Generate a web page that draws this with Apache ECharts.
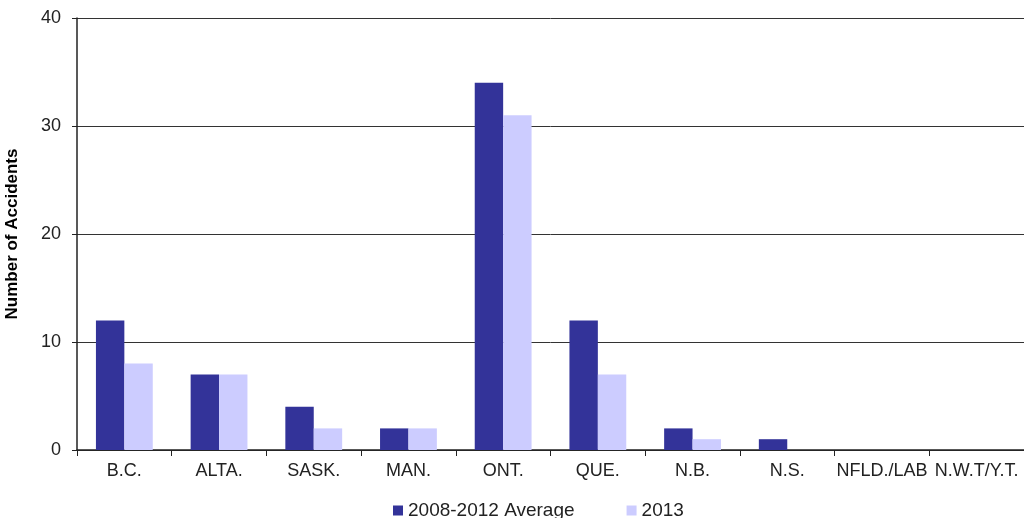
<!DOCTYPE html>
<html><head><meta charset="utf-8">
<script src="https://cdn.jsdelivr.net/npm/echarts@6/dist/echarts.min.js"></script>
<style>html,body{margin:0;padding:0;background:#fff}#c{width:1024px;height:518px}</style>
</head><body><div id="c"></div>
<script>
const categories = ["B.C.","ALTA.","SASK.","MAN.","ONT.","QUE.","N.B.","N.S.","NFLD./LAB","N.W.T/Y.T."];
const avg2008_2012 = [12,7,4,2,34,12,2,1,0,0];
const y2013 = [8,7,2,2,31,7,1,0,0,0];
const seriesNames = ["2008-2012 Average","2013"];
const chart = echarts.init(document.getElementById('c'));
const font = "'Liberation Sans', Arial, sans-serif";
chart.setOption({
  animation:false,
  grid:{left:77,right:0,top:18,bottom:68,containLabel:false,outerBoundsMode:'none'},
  legend:{top:496,left:388,itemWidth:10,itemHeight:10,itemGap:52,icon:'rect',
    textStyle:{fontFamily:font,fontSize:19,color:'#222'},data:seriesNames},
  xAxis:{type:'category',data:categories,
    axisLine:{lineStyle:{color:'#222',width:1.5}},
    axisTick:{show:true,length:6,lineStyle:{color:'#222'}},
    axisLabel:{interval:0,fontFamily:font,fontSize:18,color:'#222',margin:12}},
  yAxis:{type:'value',min:0,max:40,interval:10,
    name:'Number of Accidents',nameLocation:'middle',nameGap:56,
    nameTextStyle:{fontFamily:font,fontSize:17,fontWeight:'bold',color:'#000'},
    axisLine:{show:true,lineStyle:{color:'#222',width:1.5}},
    axisTick:{show:true,length:5,lineStyle:{color:'#222'}},
    axisLabel:{fontFamily:font,fontSize:18,color:'#222',margin:16},
    splitLine:{lineStyle:{color:'#333',width:1}}},
  series:[
    {name:seriesNames[0],type:'bar',data:avg2008_2012,barGap:'0%',barCategoryGap:'40%',itemStyle:{color:'#333399'}},
    {name:seriesNames[1],type:'bar',data:y2013,itemStyle:{color:'#ccccff'}}
  ]
});
</script></body></html>
